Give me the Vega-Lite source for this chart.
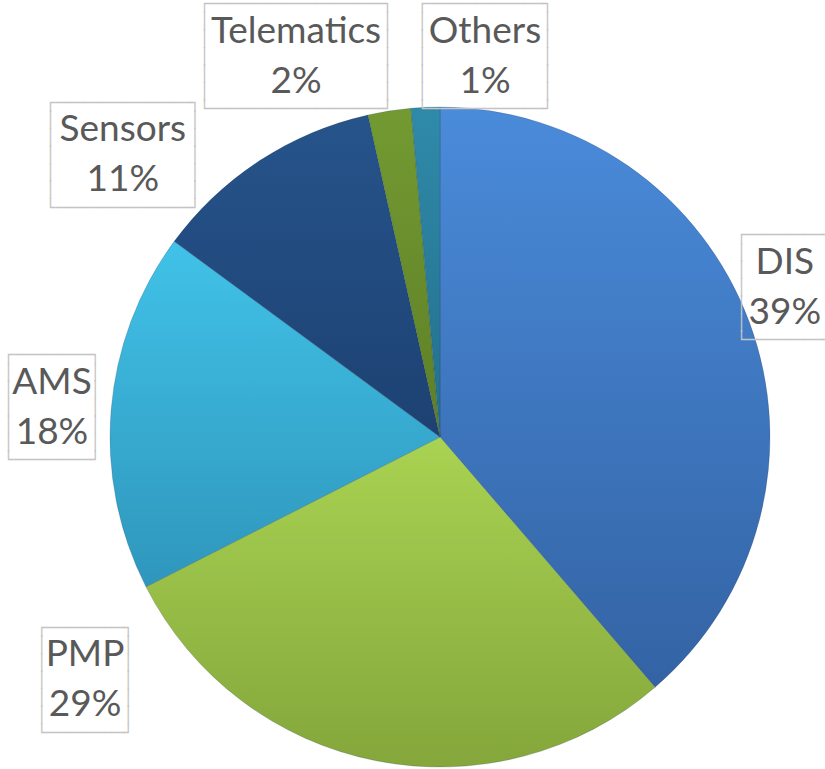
{
  "$schema": "https://vega.github.io/schema/vega-lite/v6.json",
  "width": 660,
  "height": 660,
  "autosize": {"type": "none"},
  "padding": {"left": 110, "top": 107, "right": 55, "bottom": 2},
  "background": "white",
  "view": {"stroke": null},
  "data": {
    "values": [
      {"category": "DIS", "value": 38.7},
      {"category": "PMP", "value": 28.8},
      {"category": "AMS", "value": 17.6},
      {"category": "Sensors", "value": 11.4},
      {"category": "Telematics", "value": 2.1},
      {"category": "Others", "value": 1.4}
    ]
  },
  "transform": [
    {"calculate": "indexof(['DIS','PMP','AMS','Sensors','Telematics','Others'], datum.category)", "as": "rank"},
    {"calculate": "datum.category + '\\n' + format(datum.value, '.0f') + '%'", "as": "label"},
    {"calculate": "round(1.5 * length(datum.category) + 5.3) - 2", "as": "inner"},
    {"calculate": "'│' + pad('', datum.inner, '\u00a0') + '│'", "as": "mid"},
    {"calculate": "'┌' + pad('', datum.inner, '─') + '┐\\n' + datum.mid + '\\n' + datum.mid + '\\n' + datum.mid + '\\n' + datum.mid + '\\n' + datum.mid + '\\n' + '└' + pad('', datum.inner, '─') + '┘'", "as": "box"},
    {"stack": "value", "groupby": [], "sort": [{"field": "rank", "order": "ascending"}], "as": ["v0", "v1"]}
  ],
  "layer": [
    {
      "transform": [{"filter": "datum.category == 'DIS'"}],
      "mark": {"type": "arc", "outerRadius": 330, "stroke": "#1e3450", "strokeWidth": 0.5, "strokeOpacity": 0.4,
        "fill": {"gradient": "linear", "x1": 0, "y1": 0, "x2": 0, "y2": 1, "stops": [{"offset": 0, "color": "#4a8bda"}, {"offset": 1, "color": "#3363a4"}]}},
      "encoding": {
        "theta": {"field": "v0", "type": "quantitative", "scale": {"domain": [0, 100], "range": [0, 6.283185307]}},
        "theta2": {"field": "v1"}
      }
    },
    {
      "transform": [{"filter": "datum.category == 'PMP'"}],
      "mark": {"type": "arc", "outerRadius": 330, "stroke": "#1e3450", "strokeWidth": 0.5, "strokeOpacity": 0.4,
        "fill": {"gradient": "linear", "x1": 0, "y1": 0, "x2": 0, "y2": 1, "stops": [{"offset": 0, "color": "#a9d352"}, {"offset": 1, "color": "#84a63b"}]}},
      "encoding": {
        "theta": {"field": "v0", "type": "quantitative", "scale": {"domain": [0, 100], "range": [0, 6.283185307]}},
        "theta2": {"field": "v1"}
      }
    },
    {
      "transform": [{"filter": "datum.category == 'AMS'"}],
      "mark": {"type": "arc", "outerRadius": 330, "stroke": "#1e3450", "strokeWidth": 0.5, "strokeOpacity": 0.4,
        "fill": {"gradient": "linear", "x1": 0, "y1": 0, "x2": 0, "y2": 1, "stops": [{"offset": 0, "color": "#41c2e8"}, {"offset": 1, "color": "#2f96bc"}]}},
      "encoding": {
        "theta": {"field": "v0", "type": "quantitative", "scale": {"domain": [0, 100], "range": [0, 6.283185307]}},
        "theta2": {"field": "v1"}
      }
    },
    {
      "transform": [{"filter": "datum.category == 'Sensors'"}],
      "mark": {"type": "arc", "outerRadius": 330, "stroke": "#1e3450", "strokeWidth": 0.5, "strokeOpacity": 0.4,
        "fill": {"gradient": "linear", "x1": 0, "y1": 0, "x2": 0, "y2": 1, "stops": [{"offset": 0, "color": "#26548b"}, {"offset": 1, "color": "#1d4172"}]}},
      "encoding": {
        "theta": {"field": "v0", "type": "quantitative", "scale": {"domain": [0, 100], "range": [0, 6.283185307]}},
        "theta2": {"field": "v1"}
      }
    },
    {
      "transform": [{"filter": "datum.category == 'Telematics'"}],
      "mark": {"type": "arc", "outerRadius": 330, "stroke": "#1e3450", "strokeWidth": 0.5, "strokeOpacity": 0.4,
        "fill": {"gradient": "linear", "x1": 0, "y1": 0, "x2": 0, "y2": 1, "stops": [{"offset": 0, "color": "#739a32"}, {"offset": 1, "color": "#5e7f26"}]}},
      "encoding": {
        "theta": {"field": "v0", "type": "quantitative", "scale": {"domain": [0, 100], "range": [0, 6.283185307]}},
        "theta2": {"field": "v1"}
      }
    },
    {
      "transform": [{"filter": "datum.category == 'Others'"}],
      "mark": {"type": "arc", "outerRadius": 330, "stroke": "#1e3450", "strokeWidth": 0.5, "strokeOpacity": 0.4,
        "fill": {"gradient": "linear", "x1": 0, "y1": 0, "x2": 0, "y2": 1, "stops": [{"offset": 0, "color": "#2f8aa9"}, {"offset": 1, "color": "#236f8b"}]}},
      "encoding": {
        "theta": {"field": "v0", "type": "quantitative", "scale": {"domain": [0, 100], "range": [0, 6.283185307]}},
        "theta2": {"field": "v1"}
      }
    },
    {
      "mark": {"type": "text", "font": "DejaVu Sans Mono", "fontSize": 16, "lineHeight": 17.5, "lineBreak": "\n", "color": "#c4c4c4", "align": "center", "baseline": "middle", "dy": -52.5},
      "encoding": {
        "theta": {"field": "value", "type": "quantitative", "stack": true, "scale": {"type": "linear", "domain": [19.35, 53.1, 76.3, 90.8, 97.55, 99.3], "range": [1.162, 4.112, 4.787, 5.439, 5.921, 6.401], "nice": false, "zero": false}},
        "radius": {"field": "value", "type": "quantitative", "scale": {"type": "linear", "domain": [1.4, 2.1, 11.4, 17.6, 28.8, 38.7], "range": [382.7, 406.4, 424.3, 389.1, 430.2, 375.8], "nice": false, "zero": false}},
        "order": {"field": "rank", "type": "quantitative"},
        "text": {"field": "box", "type": "nominal"}
      }
    },
    {
      "mark": {"type": "text", "font": "Lato", "fontSize": 37, "lineHeight": 50, "lineBreak": "\n", "color": "#595959", "align": "center", "baseline": "middle", "dy": -25},
      "encoding": {
        "theta": {"field": "value", "type": "quantitative", "stack": true, "scale": {"type": "linear", "domain": [19.35, 53.1, 76.3, 90.8, 97.55, 99.3], "range": [1.162, 4.112, 4.787, 5.439, 5.921, 6.401], "nice": false, "zero": false}},
        "radius": {"field": "value", "type": "quantitative", "scale": {"type": "linear", "domain": [1.4, 2.1, 11.4, 17.6, 28.8, 38.7], "range": [382.7, 406.4, 424.3, 389.1, 430.2, 375.8], "nice": false, "zero": false}},
        "order": {"field": "rank", "type": "quantitative"},
        "text": {"field": "label", "type": "nominal"}
      }
    }
  ],
  "resolve": {"scale": {"theta": "independent"}}
}
